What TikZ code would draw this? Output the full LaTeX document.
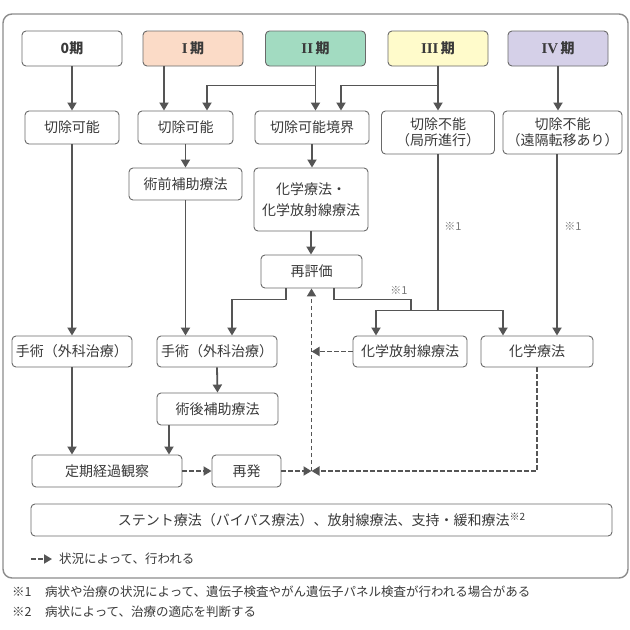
\documentclass[tikz,border=0pt]{standalone}
\usepackage{fontspec}
\setmainfont{Noto Sans CJK JP}
\newfontfamily\romfont{Liberation Serif}
\usetikzlibrary{arrows.meta,calc}
\definecolor{txt}{HTML}{3A3A3A}
\definecolor{ln}{HTML}{555555}
\definecolor{bd}{HTML}{6A6A6A}
\definecolor{fr}{HTML}{8C8C8C}
\definecolor{ca}{HTML}{FBDBC7}
\definecolor{cb}{HTML}{A2DBC1}
\definecolor{cc}{HTML}{FFFBCB}
\definecolor{cd}{HTML}{D5D0E8}
\definecolor{nt}{HTML}{777777}
\newcommand{\romn}[1]{{\romfont\bfseries\fontsize{15}{16}\selectfont #1}\,}
\begin{document}
\begin{tikzpicture}[x=1pt,y=-1pt,
  box/.style={draw=bd,line width=0.9pt,rounded corners=4pt,fill=white,text=txt,font=\fontsize{14}{16}\selectfont,inner sep=0pt,align=center},
  stage/.style={box,minimum width=100pt,minimum height=35pt,font=\fontsize{14}{16}\selectfont\bfseries},
  arr/.style={draw=ln,line width=1.8pt,-{Triangle[length=8pt,width=9pt]}},
  con/.style={draw=ln,line width=1.8pt},
  darr/.style={draw=ln,line width=1.8pt,dash pattern=on 4.5pt off 2.5pt,-{Triangle[length=8pt,width=9pt]}},
  note/.style={text=nt,font=\fontsize{11}{12}\selectfont,inner sep=0pt},
  foot/.style={text=txt,font=\fontsize{12.5}{14}\selectfont,inner sep=0pt,anchor=west}
]
\useasboundingbox (0,0) rectangle (630,630);
\fill[white] (0,0) rectangle (630,630);
\draw[draw=fr,line width=1.4pt,rounded corners=9pt] (3,14) rectangle (628,578);

% stages
\node[stage] (s0) at (72,48.5) {0期};
\node[stage,fill=ca] (s1) at (193,48.5) {\romn{I}期};
\node[stage,fill=cb] (s2) at (315.5,48.5) {\romn{II}期};
\node[stage,fill=cc] (s3) at (438,48.5) {\romn{III}期};
\node[stage,fill=cd] (s4) at (558,48.5) {\romn{IV}期};

% row 2
\node[box,minimum width=94pt,minimum height=33pt] (r0) at (72,127.5) {切除可能};
\node[box,minimum width=95pt,minimum height=33pt] (r1) at (185.5,127.5) {切除可能};
\node[box,minimum width=114pt,minimum height=33pt] (r2) at (312,127.5) {切除可能境界};
\node[box,minimum width=113pt,minimum height=43pt] (r3) at (438,132.5) {切除不能\\（局所進行）};
\node[box,minimum width=119pt,minimum height=43pt] (r4) at (562.5,132.5) {切除不能\\（遠隔転移あり）};

% row 3
\node[box,minimum width=113pt,minimum height=32pt] (pre) at (185.5,184) {術前補助療法};
\node[box,minimum width=114pt,minimum height=63pt] (chemo) at (311,199.5) {化学療法・\\[5pt]化学放射線療法};
\node[box,minimum width=101pt,minimum height=33pt] (reeval) at (311.5,271.5) {再評価};

% row 4
\node[box,minimum width=120pt,minimum height=31pt] (surg0) at (72,351.5) {手術（外科治療）};
\node[box,minimum width=120pt,minimum height=31pt] (surg1) at (217,351.5) {手術（外科治療）};
\node[box,minimum width=114pt,minimum height=31pt] (crt) at (410,351.5) {化学放射線療法};
\node[box,minimum width=112pt,minimum height=31pt] (ct) at (537,351.5) {化学療法};

\node[box,minimum width=121pt,minimum height=32pt] (post) at (217.5,409) {術後補助療法};
\node[box,minimum width=150pt,minimum height=32pt] (obs) at (107,471) {定期経過観察};
\node[box,minimum width=69pt,minimum height=32pt] (rec) at (246.5,471) {再発};
\node[box,minimum width=581pt,minimum height=32pt] (stent) at (321.5,520) {ステント療法（バイパス療法）、放射線療法、支持・緩和療法\raisebox{0.6ex}{\fontsize{10}{10}\selectfont ※2}};

% connectors
\draw[arr] (s0.south) -- (r0.north);
\draw[arr] ([xshift=-29pt]s1.south) -- ([xshift=-21.5pt]r1.north);
\draw[arr] (s2.south) -- (s2.south |- r2.north);
\draw[arr] (s2.south) -- ++(0,19) -| ([xshift=21.5pt]r1.north);
\draw[arr] (s3.south) -- (s3.south |- r3.north);
\draw[arr] (s3.south) -- ++(0,19) -| ([xshift=29pt]r2.north);
\draw[arr] (s4.south) -- (s4.south |- r4.north);
\draw[arr] (r0.south) -- (surg0.north);
\draw[arr] (r1.south) -- (pre.north);
\draw[arr] (pre.south) -- (pre.south |- surg1.north);
\draw[arr] (r2.south) -- (r2.south |- chemo.north);
\draw[arr] (chemo.south) -- (chemo.south |- reeval.north);
\draw[arr] ([xshift=-25.5pt]reeval.south) -- ++(0,11) -| ([xshift=15pt]surg1.north);
\coordinate (bus) at ($(r3.south)+(0,156)$);
\draw[con] (r3.south) -- (bus);
\draw[con] ([xshift=22.5pt]reeval.south) -- ++(0,11) -| ([xshift=1pt]crt.north |- bus);
\draw[arr] ([xshift=1pt]bus) -| ([xshift=-34pt]crt.north);
\draw[arr] ([xshift=-1pt]bus) -| ([xshift=-34pt]ct.north);
\draw[arr] ([xshift=20pt]ct.north |- r4.south) -- ([xshift=20pt]ct.north);
\draw[arr] (surg0.south) -- (surg0.south |- obs.north);
\draw[arr] (surg1.south) -- (post.north);
\draw[arr] ([xshift=-48.5pt]post.south) -- ([xshift=-48.5pt]post.south |- obs.north);

% dashed
\coordinate (J) at (reeval.south |- rec.east);
\draw[darr] (obs.east) -- (rec.west);
\draw[darr] (rec.east) -- (J);
\draw[darr] (J) -- (reeval.south);
\draw[darr] (crt.west) -- (crt.west -| J);
\draw[darr] (ct.south) |- (J);

% notes
\node[note] (n1) at (399,290) {※1};
\node[note] (n2) at (453,226) {※1};
\node[note] (n3) at (573,226) {※1};

% legend
\coordinate (lg0) at (31,559);
\coordinate (lg1) at (52,559);
\draw[darr] (lg0) -- (lg1);
\node[foot] (lgt) at (59,559) {状況によって、行われる};

% footnotes
\node[foot] (f1a) at (12,592) {※1};
\node[foot] (f1b) at (45,592) {病状や治療の状況によって、遺伝子検査やがん遺伝子パネル検査が行われる場合がある};
\node[foot] (f2a) at (12,612) {※2};
\node[foot] (f2b) at (45,612) {病状によって、治療の適応を判断する};
\end{tikzpicture}
\end{document}
